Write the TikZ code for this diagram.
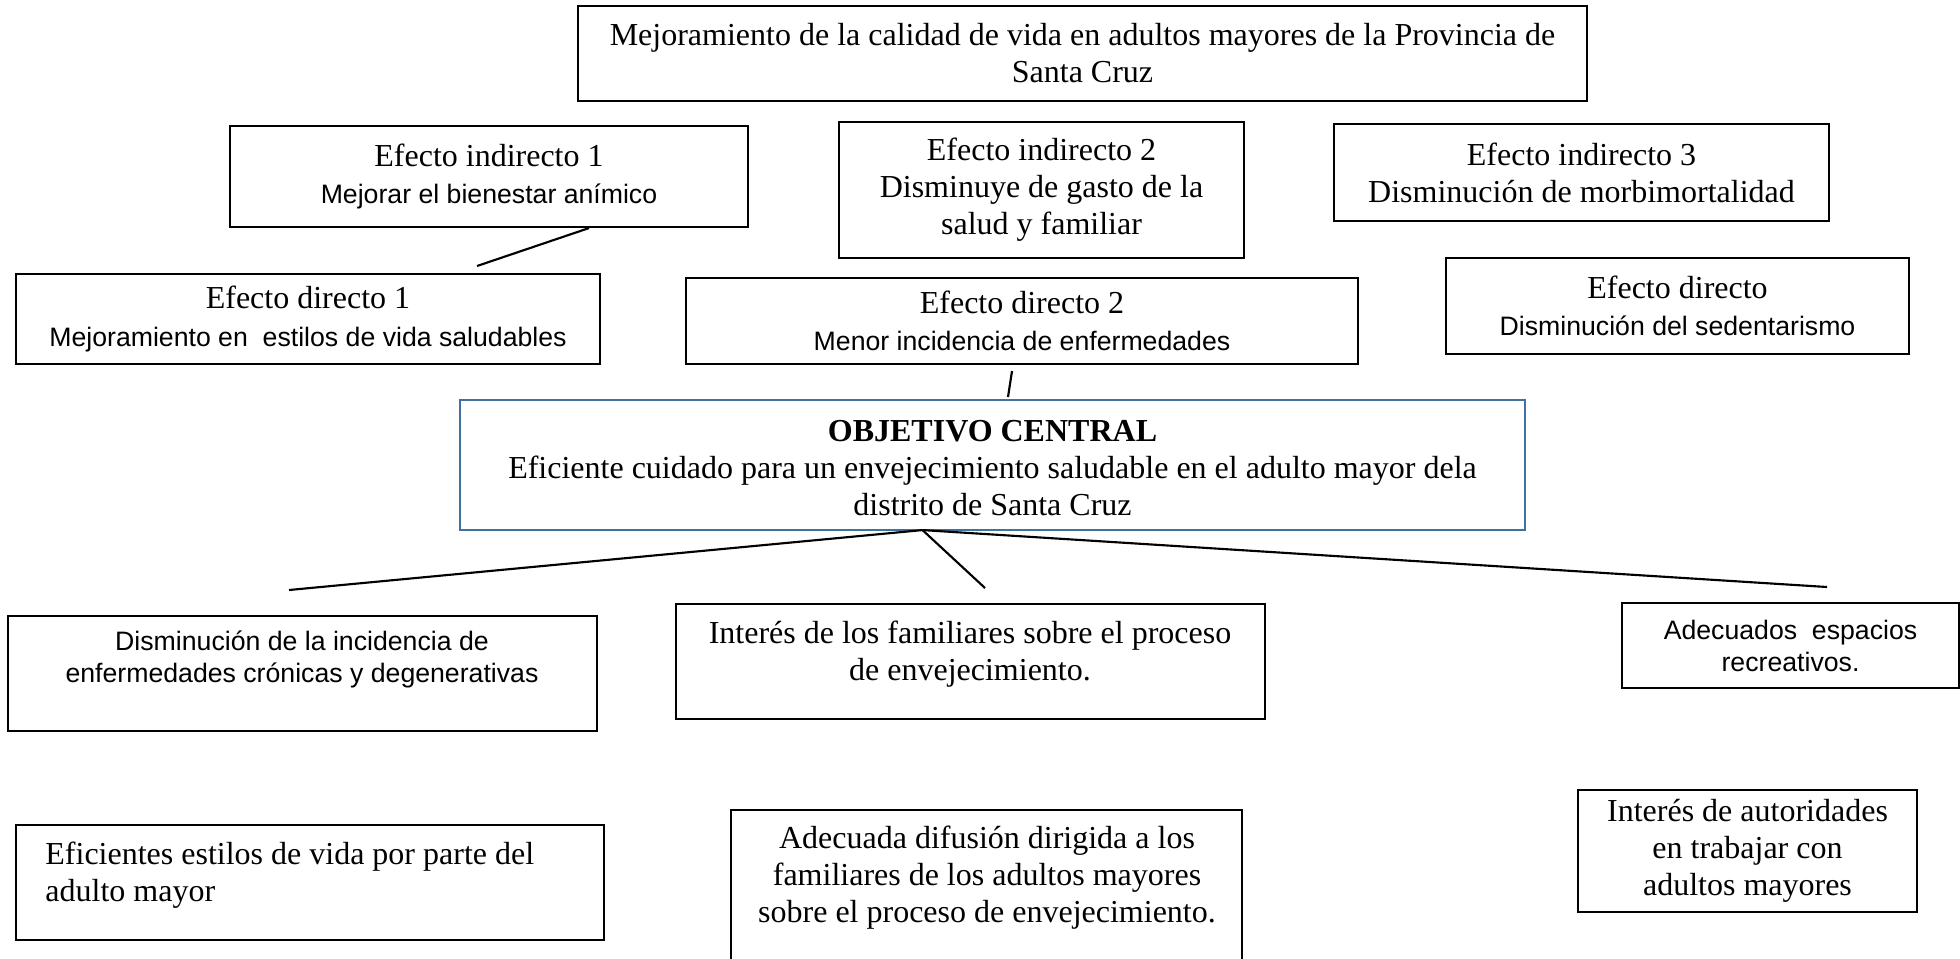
\documentclass[tikz,border=0pt]{standalone}
\usepackage{fontspec}
\setmainfont{Liberation Serif}
\setsansfont{Liberation Sans}
\usepackage{tikz}
\usetikzlibrary{calc,fit}
\definecolor{objblue}{HTML}{41719C}
\newcommand{\subline}[1]{{\sffamily\fontsize{10}{12}\selectfont #1}}

\begin{document}
\begin{tikzpicture}[x=0.375pt,y=-0.375pt,every node/.style={align=center,font=\fontsize{12}{13.9}\selectfont},box/.style={draw=#1,line width=0.8pt,inner sep=0pt},box/.default=black,sans/.style={font=\sffamily\fontsize{10}{12}\selectfont},link/.style={line width=0.8pt}]
\useasboundingbox (0,0) rectangle (1960,958);
% effects
\node[box,fit={(578,6) (1587,101)}] (goal) {};
\node (goalt) at (goal) {Mejoramiento de la calidad de vida en adultos mayores de la Provincia de\\Santa Cruz};
\node[box,fit={(230,126) (748,227)}] (ind1) {};
\node (ind1t) at (ind1) {Efecto indirecto 1\\\subline{Mejorar el bienestar anímico}};
\node[box,fit={(839,122) (1244,258)}] (ind2) {};
\node (ind2t) at (ind2) {Efecto indirecto 2\\Disminuye de gasto de la\\salud y familiar};
\node[box,fit={(1334,124) (1829,221)}] (ind3) {};
\node (ind3t) at (ind3) {Efecto indirecto 3\\Disminución de morbimortalidad};
\node[box,fit={(16,274) (600,364)}] (dir1) {};
\node (dir1t) at (dir1) {Efecto directo 1\\\subline{Mejoramiento en~ estilos de vida saludables}};
\node[box,fit={(686,278) (1358,364)}] (dir2) {};
\node (dir2t) at (dir2) {Efecto directo 2\\\subline{Menor incidencia de enfermedades}};
\node[box,fit={(1446,258) (1909,354)}] (dir3) {};
\node (dir3t) at (dir3) {Efecto directo\\\subline{Disminución del sedentarismo}};
% objective
\node[box=objblue,fit={(460,400) (1525,530)}] (obj) {};
\node (objt) at ($(obj)+(0,3)$) {\textbf{OBJETIVO CENTRAL}\\Eficiente cuidado para un envejecimiento saludable en el adulto mayor dela\\distrito de Santa Cruz};
% causes
\node[box,fit={(8,616) (597,731)}] (cau1) {};
\node[sans] (cau1t) at (302,659) {Disminución de la incidencia de\\enfermedades crónicas y degenerativas};
\node[box,fit={(676,604) (1265,719)}] (cau2) {};
\node (cau2t) at (970,654) {Interés de los familiares sobre el proceso\\de envejecimiento.};
\node[box,fit={(1622,603) (1959,688)}] (cau3) {};
\node[sans] (cau3t) at (cau3) {Adecuados~ espacios\\recreativos.};
% means
\node[box,fit={(16,825) (604,940)}] (med1) {};
\node[anchor=west,align=left] (med1t) at (36,875) {Eficientes estilos de vida por parte del\\adulto mayor};
\node[box,fit={(731,810) (1242,965)}] (med2) {};
\node (med2t) at (987,878) {Adecuada difusión dirigida a los\\familiares de los adultos mayores\\sobre el proceso de envejecimiento.};
\node[box,fit={(1578,790) (1917,912)}] (med3) {};
\node (med3t) at (med3) {Interés de autoridades\\en trabajar con\\adultos mayores};
% links
\coordinate (a1) at ($(ind1.south)+(100,0)$);
\coordinate (a2) at (477,266);
\draw[link] (a1) -- (a2);
\coordinate (b1) at (1012,371);
\coordinate (b2) at (1008,397);
\draw[link] (b1) -- (b2);
\coordinate (hub) at ($(obj.south)+(-70,-1)$);
\coordinate (e1) at (289,590);
\coordinate (e2) at (985,588);
\coordinate (e3) at (1827,587);
\foreach \e in {e1,e2,e3} \draw[link] (hub) -- (\e);
\end{tikzpicture}
\end{document}
